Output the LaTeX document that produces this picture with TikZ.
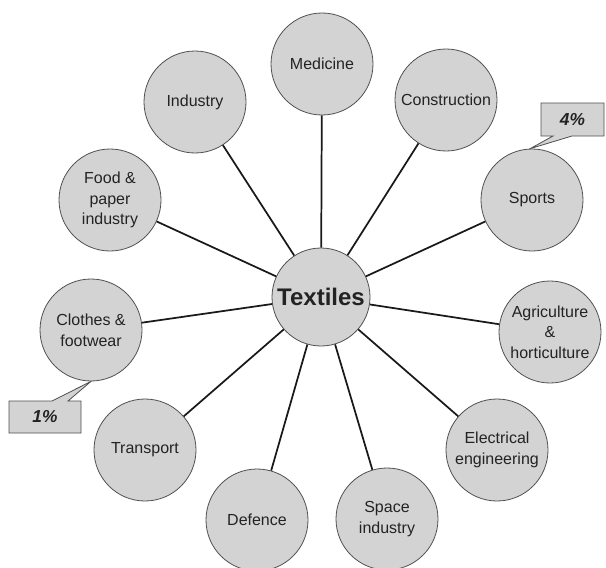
\documentclass[tikz,border=0pt]{standalone}
\usepackage{fontspec}
\setmainfont{Liberation Sans}
\usetikzlibrary{calc}
\usetikzlibrary{backgrounds}

\begin{document}
\begin{tikzpicture}[x=0.75pt,y=0.75pt,yscale=-1,xscale=1,
  field/.style={circle, draw={rgb, 255:red, 80; green, 80; blue, 80 }, line width=0.6pt, fill={rgb, 255:red, 211; green, 211; blue, 211 }, minimum size=76.5pt, inner sep=0pt, align=center, text={rgb, 255:red, 35; green, 35; blue, 35 }, font=\fontsize{12}{15.5}\selectfont},
  hub/.style={field, minimum size=73.5pt, font=\fontsize{18}{20}\selectfont\bfseries},
  spoke/.style={draw={rgb, 255:red, 25; green, 25; blue, 25 }, line width=1.3pt},
  share/.style={inner sep=0pt, text={rgb, 255:red, 35; green, 35; blue, 35 }, font=\fontsize{13}{15}\selectfont\bfseries\itshape},
  tag/.style={draw={rgb, 255:red, 80; green, 80; blue, 80 }, line width=0.6pt, fill={rgb, 255:red, 211; green, 211; blue, 211 }}
]
\useasboundingbox (0,0) rectangle (606,567);

% Centre Node
\node [hub] (textiles) at (321,297) {Textiles};

% Circle Nodes
\node [field] (medicine) at (322,64) {Medicine};
\node [field] (construction) at (446,100) {Construction};
\node [field] (sports) at (532,200) {Sports};
\node [field] (agri) at (550,332) {Agriculture\\\&\\horticulture};
\node [field] (electrical) at (497,450) {Electrical\\engineering};
\node [field] (space) at (387,519) {Space\\industry};
\node [field] (defence) at (257,520) {Defence};
\node [field] (transport) at (145,450) {Transport};
\node [field] (clothes) at (91,330) {Clothes \&\\footwear};
\node [field] (food) at (110,200) {Food \&\\paper\\industry};
\node [field] (industry) at (195,102) {Industry};

% Straight Lines
\draw [spoke] (textiles) -- (medicine);
\draw [spoke] (textiles) -- (construction);
\draw [spoke] (textiles) -- (sports);
\draw [spoke] (textiles) -- (agri);
\draw [spoke] (textiles) -- (electrical);
\draw [spoke] (textiles) -- (space);
\draw [spoke] (textiles) -- (defence);
\draw [spoke] (textiles) -- (transport);
\draw [spoke] (textiles) -- (clothes);
\draw [spoke] (textiles) -- (food);
\draw [spoke] (textiles) -- (industry);

% Callout Nodes
\node [share] (sharesports) at (572.5,119.5) {4\%};
\node [share] (shareclothes) at (45,417) {1\%};
\begin{scope}[on background layer]
\draw [tag] ($(sharesports)+(-31.5,-16.5)$) -- ($(sharesports)+(31.5,-16.5)$) -- ($(sharesports)+(31.5,16.5)$) -- ($(sharesports)+(-0.5,16.5)$) -- (sports.92) -- ($(sharesports)+(-19.5,16.5)$) -- ($(sharesports)+(-31.5,16.5)$) -- cycle ;
\draw [tag] ($(shareclothes)+(-36,-16)$) -- ($(shareclothes)+(7,-16)$) -- (clothes.270) -- ($(shareclothes)+(23,-16)$) -- ($(shareclothes)+(36,-16)$) -- ($(shareclothes)+(36,16)$) -- ($(shareclothes)+(-36,16)$) -- cycle ;
\end{scope}

\end{tikzpicture}
\end{document}
